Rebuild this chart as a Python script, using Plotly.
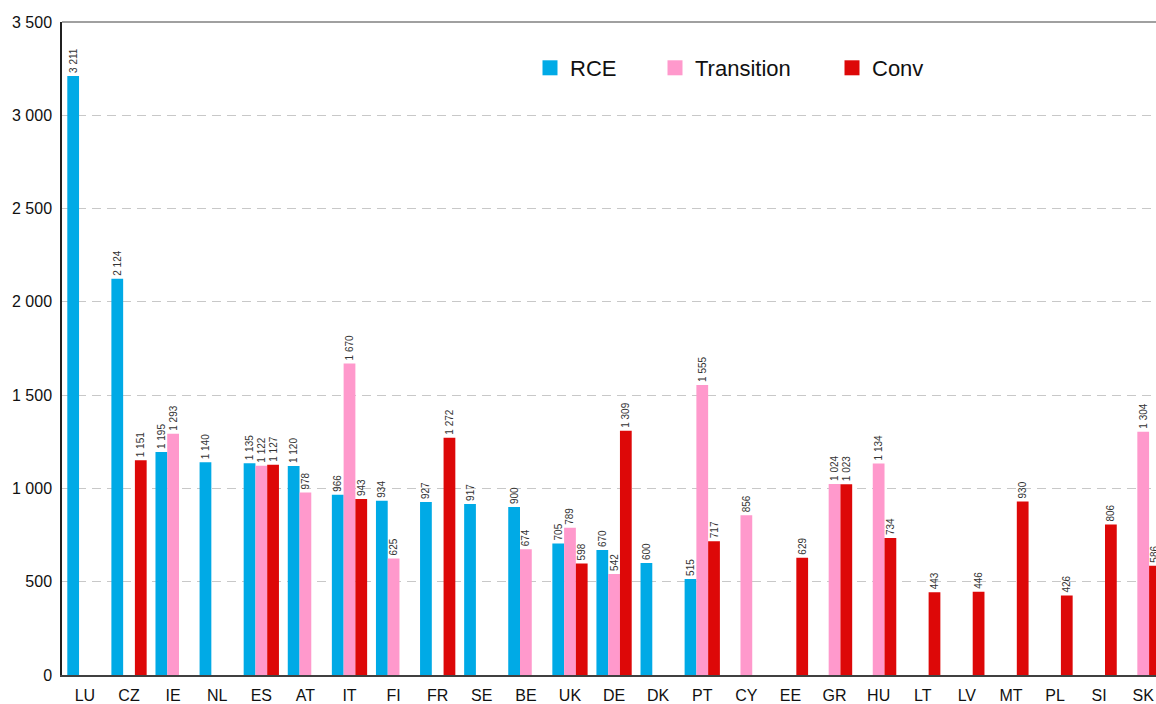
import plotly.graph_objects as go

# Country codes along the x axis
countries = ["LU", "CZ", "IE", "NL", "ES", "AT", "IT", "FI", "FR", "SE", "BE", "UK", "DE",
             "DK", "PT", "CY", "EE", "GR", "HU", "LT", "LV", "MT", "PL", "SI", "SK"]

# Values per series (None = no bar for that country)
rce = [3211, 2124, 1195, 1140, 1135, 1120, 966, 934, 927, 917, 900, 705, 670,
       600, 515, None, None, None, None, None, None, None, None, None, None]
transition = [None, None, 1293, None, 1122, 978, 1670, 625, None, None, 674, 789, 542,
              None, 1555, 856, None, 1024, 1134, None, None, None, None, None, 1304]
conv = [None, 1151, None, None, 1127, None, 943, None, 1272, None, None, 598, 1309,
        None, 717, None, 629, 1023, 734, 443, 446, 930, 426, 806, 586]

y_ticks = [0, 500, 1000, 1500, 2000, 2500, 3000, 3500]

FONT = "Liberation Sans, Arial, sans-serif"


def fmt(v):
    return "" if v is None else f"{v:,}".replace(",", " ")


series = [
    ("RCE", rce, "#00AAE6", "legend"),
    ("Transition", transition, "#FF99CC", "legend2"),
    ("Conv", conv, "#DD0808", "legend3"),
]

fig = go.Figure()
for name, vals, color, leg in series:
    fig.add_trace(go.Bar(
        name=name,
        x=countries,
        y=vals,
        marker=dict(color=color, line=dict(width=0)),
        text=[fmt(v) for v in vals],
        textposition="outside",
        textangle=-90,
        textfont=dict(family=FONT, size=10, color="#333333"),
        constraintext="none",
        cliponaxis=False,
        showlegend=False,
    ))
    # legend entry with a larger square swatch
    fig.add_trace(go.Scatter(
        name=name,
        x=[None],
        y=[None],
        mode="markers",
        marker=dict(symbol="square", size=15, color=color, line=dict(width=0)),
        showlegend=True,
        legend=leg,
        hoverinfo="skip",
    ))

W, H = 1156, 704
ML, MT, MB = 62, 22, 29
plot_w = W - ML
plot_h = H - MT - MB


def lx(px):
    return (px - ML) / plot_w


def ly(py):
    return (H - MB - py) / plot_h


leg_common = dict(
    orientation="h",
    xanchor="left",
    yanchor="middle",
    bgcolor="rgba(0,0,0,0)",
    font=dict(family=FONT, size=22, color="#111111"),
    itemclick=False,
)

fig.update_layout(
    width=W,
    height=H,
    margin=dict(l=ML, r=0, t=MT, b=MB, pad=0),
    paper_bgcolor="white",
    plot_bgcolor="white",
    barmode="group",
    bargap=0.2,
    bargroupgap=0,
    separators=", ",
    showlegend=True,
    legend=dict(x=lx(530), y=ly(68), **leg_common),
    legend2=dict(x=lx(655), y=ly(68), **leg_common),
    legend3=dict(x=lx(832), y=ly(68), **leg_common),
    xaxis=dict(
        range=[-0.52, 24.29],
        automargin=False,
        showgrid=False,
        showline=True,
        linecolor="#404040",
        linewidth=1.5,
        ticks="",
        ticklabelstandoff=5,
        tickfont=dict(family=FONT, size=16, color="#111111"),
    ),
    yaxis=dict(
        range=[0, 3500],
        automargin=False,
        tickvals=y_ticks,
        tickformat=",d",
        showgrid=True,
        gridcolor="#C8C8C8",
        gridwidth=1,
        griddash="9px,6px",
        zeroline=False,
        showline=True,
        linecolor="#202020",
        linewidth=1.5,
        ticks="",
        ticklabelstandoff=5,
        tickfont=dict(family=FONT, size=16, color="#111111"),
    ),
    shapes=[dict(
        type="line", xref="paper", yref="paper",
        x0=0, x1=1, y0=1, y1=1,
        line=dict(color="#808080", width=1.5),
    )],
)

fig.write_html("out.html")
